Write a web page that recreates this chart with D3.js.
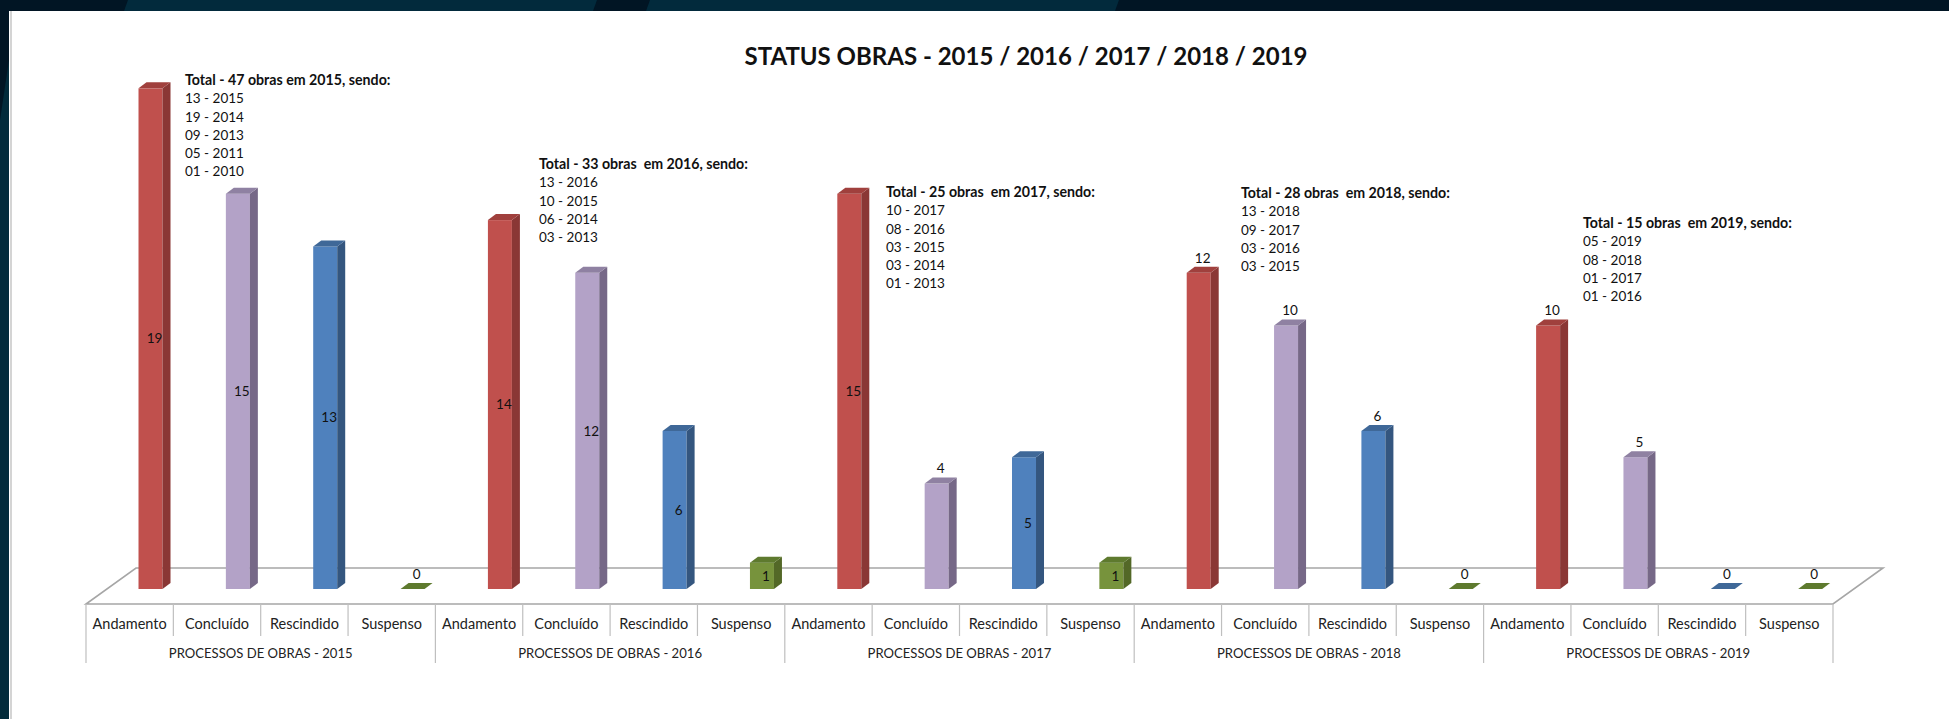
<!DOCTYPE html>
<html>
<head>
<meta charset="utf-8">
<script src="https://cdn.jsdelivr.net/npm/d3@7"></script>
<style>
  html, body { margin: 0; padding: 0; background: #fff; }
  svg { display: block; font-family: Lato, "Open Sans", sans-serif; }
</style>
</head>
<body>
<svg width="1949" height="719"></svg>
<script>
// values
var years = ["2015", "2016", "2017", "2018", "2019"];
var statuses = ["Andamento", "Concluído", "Rescindido", "Suspenso"];
var andamento  = [19, 14, 15, 12, 10];
var concluido  = [15, 12, 4, 10, 5];
var rescindido = [13, 6, 5, 6, 0];
var suspenso   = [0, 1, 1, 0, 0];
var groupLabels = ["PROCESSOS DE OBRAS - 2015", "PROCESSOS DE OBRAS - 2016", "PROCESSOS DE OBRAS - 2017",
                   "PROCESSOS DE OBRAS - 2018", "PROCESSOS DE OBRAS - 2019"];
var noteTitles = ["Total - 47 obras em 2015, sendo:", "Total - 33 obras  em 2016, sendo:",
                  "Total - 25 obras  em 2017, sendo:", "Total - 28 obras  em 2018, sendo:",
                  "Total - 15 obras  em 2019, sendo:"];
var noteLines = [
  ["13 - 2015", "19 - 2014", "09 - 2013", "05 - 2011", "01 - 2010"],
  ["13 - 2016", "10 - 2015", "06 - 2014", "03 - 2013"],
  ["10 - 2017", "08 - 2016", "03 - 2015", "03 - 2014", "01 - 2013"],
  ["13 - 2018", "09 - 2017", "03 - 2016", "03 - 2015"],
  ["05 - 2019", "08 - 2018", "01 - 2017", "01 - 2016"]
];
var insideLabelYears = ["2015", "2016", "2017"];

var svg = d3.select("svg"),
    W = +svg.attr("width"),
    H = +svg.attr("height");

// frame of the slide
svg.append("rect").attr("width", W).attr("height", H).attr("fill", "#fff");
svg.append("rect").attr("width", W).attr("height", 11).attr("fill", "#011524");
svg.selectAll(".stripe")
  .data([[124, 597], [646, 1119]])
  .enter().append("path")
    .attr("class", "stripe")
    .attr("fill", "#022a3c")
    .attr("d", function(d) { return "M" + (d[0] + 4) + ",0L" + d[1] + ",0L" + (d[1] - 4) + ",11L" + d[0] + ",11Z"; });
svg.append("rect").attr("x", 0).attr("y", 11).attr("width", 9).attr("height", H - 11).attr("fill", "#022b3b");
svg.append("path").attr("d", "M0,11L9,11L9,60L0,120Z").attr("fill", "#011524");
svg.append("line").attr("x1", 11).attr("x2", 11).attr("y1", 11).attr("y2", H)
  .attr("stroke", "#d4d4d4").attr("stroke-width", 2);

var colors = {
  "Andamento":  {front: "#c0504d", side: "#8a3735", top: "#a0403d"},
  "Concluído":  {front: "#b3a2c7", side: "#766887", top: "#8f81a2"},
  "Rescindido": {front: "#4f81bd", side: "#34567f", top: "#3f6898"},
  "Suspenso":   {front: "#77933c", side: "#536827", top: "#5e7a2e"}
};

var series = [andamento, concluido, rescindido, suspenso];
var data = [];
years.forEach(function(yr, i) {
  statuses.forEach(function(st, j) {
    data.push({year: yr, status: st, key: yr + "|" + st, value: series[j][i]});
  });
});

// layout of the 3d floor
var left = 86, right = 1833, floorY = 604,
    depth = {dx: 50, dy: -36},
    barT = 15 / 36,           // bars stand this far back on the floor
    barW = 24, barDx = 8, barDy = -6;
var baseY = floorY + depth.dy * barT;

var x = d3.scaleBand().domain(data.map(function(d) { return d.key; })).range([left, right]);
var xg = d3.scaleBand().domain(years).range([left, right]);
var y = d3.scaleLinear().domain([0, 20]).range([baseY, baseY - 20 * 26.35]);

// title
svg.append("text")
  .attr("x", 1026).attr("y", 57).attr("dy", "0.35em")
  .attr("text-anchor", "middle")
  .attr("font-size", 24).attr("font-weight", "bold").attr("fill", "#111")
  .text("STATUS OBRAS - 2015 / 2016 / 2017 / 2018 / 2019");

// floor
var grid = "#a6a6a6";
svg.append("path")
  .attr("fill", "none").attr("stroke", grid).attr("stroke-width", 1.6)
  .attr("d", "M" + left + "," + floorY + "L" + right + "," + floorY +
             "L" + (right + depth.dx) + "," + (floorY + depth.dy) +
             "L" + (left + depth.dx) + "," + (floorY + depth.dy) + "Z");

// category axis boxes
var ticks = x.domain().map(function(k) { return x(k); }).concat([right]);
svg.append("g").selectAll("line")
  .data(ticks)
  .enter().append("line")
    .attr("x1", function(d) { return d; }).attr("x2", function(d) { return d; })
    .attr("y1", floorY)
    .attr("y2", function(d, i) { return i % 4 === 0 ? 663 : 636; })
    .attr("stroke", "#bfbfbf").attr("stroke-width", 1.2);

svg.append("g")
  .attr("font-size", 14.5).attr("fill", "#222").attr("text-anchor", "middle")
  .selectAll("text")
  .data(data)
  .enter().append("text")
    .attr("x", function(d) { return x(d.key) + x.bandwidth() / 2; })
    .attr("y", 624).attr("dy", "0.35em")
    .text(function(d) { return d.status; });

svg.append("g")
  .attr("font-size", 13.1).attr("fill", "#222").attr("text-anchor", "middle")
  .selectAll("text")
  .data(years)
  .enter().append("text")
    .attr("x", function(d) { return xg(d) + xg.bandwidth() / 2; })
    .attr("y", 653).attr("dy", "0.35em")
    .text(function(d, i) { return groupLabels[i]; });

// bars
function barLeft(d) { return x(d.key) + x.bandwidth() / 2 + depth.dx * barT - barW / 2; }

var bars = svg.append("g").selectAll("g")
  .data(data)
  .enter().append("g");

bars.filter(function(d) { return d.value > 0; }).append("rect")
  .attr("x", barLeft)
  .attr("y", function(d) { return y(d.value); })
  .attr("width", barW)
  .attr("height", function(d) { return y(0) - y(d.value); })
  .attr("fill", function(d) { return colors[d.status].front; });

bars.filter(function(d) { return d.value > 0; }).append("path")
  .attr("fill", function(d) { return colors[d.status].side; })
  .attr("d", function(d) {
    var l = barLeft(d) + barW, t = y(d.value), b = y(0);
    return "M" + l + "," + t + "L" + (l + barDx) + "," + (t + barDy) +
           "L" + (l + barDx) + "," + (b + barDy) + "L" + l + "," + b + "Z";
  });

bars.append("path")
  .attr("fill", function(d) { return colors[d.status].top; })
  .attr("d", function(d) {
    var l = barLeft(d), t = y(d.value);
    return "M" + l + "," + t + "L" + (l + barW) + "," + t +
           "L" + (l + barW + barDx) + "," + (t + barDy) + "L" + (l + barDx) + "," + (t + barDy) + "Z";
  });

// value labels
svg.append("g")
  .attr("font-size", 13.5).attr("fill", "#111").attr("text-anchor", "middle")
  .selectAll("text")
  .data(data)
  .enter().append("text")
    .attr("x", function(d) { return barLeft(d) + (barW + barDx) / 2; })
    .attr("y", function(d) {
      var inside = d.value > 0 && insideLabelYears.indexOf(d.year) >= 0 && (d.value >= 5 || d.value === 1);
      return inside ? (y(d.value) + y(0)) / 2 : y(d.value) - 15;
    })
    .attr("dy", "0.35em")
    .text(function(d) { return d.value; });

// notes above each group
var notePos = [[185, 80], [539, 164], [886, 192], [1241, 193], [1583, 223]];
var notes = svg.append("g").attr("font-size", 13.5).attr("fill", "#111")
  .selectAll("text")
  .data(years)
  .enter().append("text")
    .attr("x", function(d, i) { return notePos[i][0]; })
    .attr("y", function(d, i) { return notePos[i][1]; })
    .style("white-space", "pre");

notes.append("tspan")
  .attr("dy", "0.35em").attr("font-weight", "bold").attr("font-size", 14.2)
  .text(function(d, i) { return noteTitles[i]; });

notes.each(function(d, i) {
  var t = d3.select(this);
  noteLines[i].forEach(function(line) {
    t.append("tspan").attr("x", notePos[i][0]).attr("dy", 18.3).text(line);
  });
});
</script>
</body>
</html>
